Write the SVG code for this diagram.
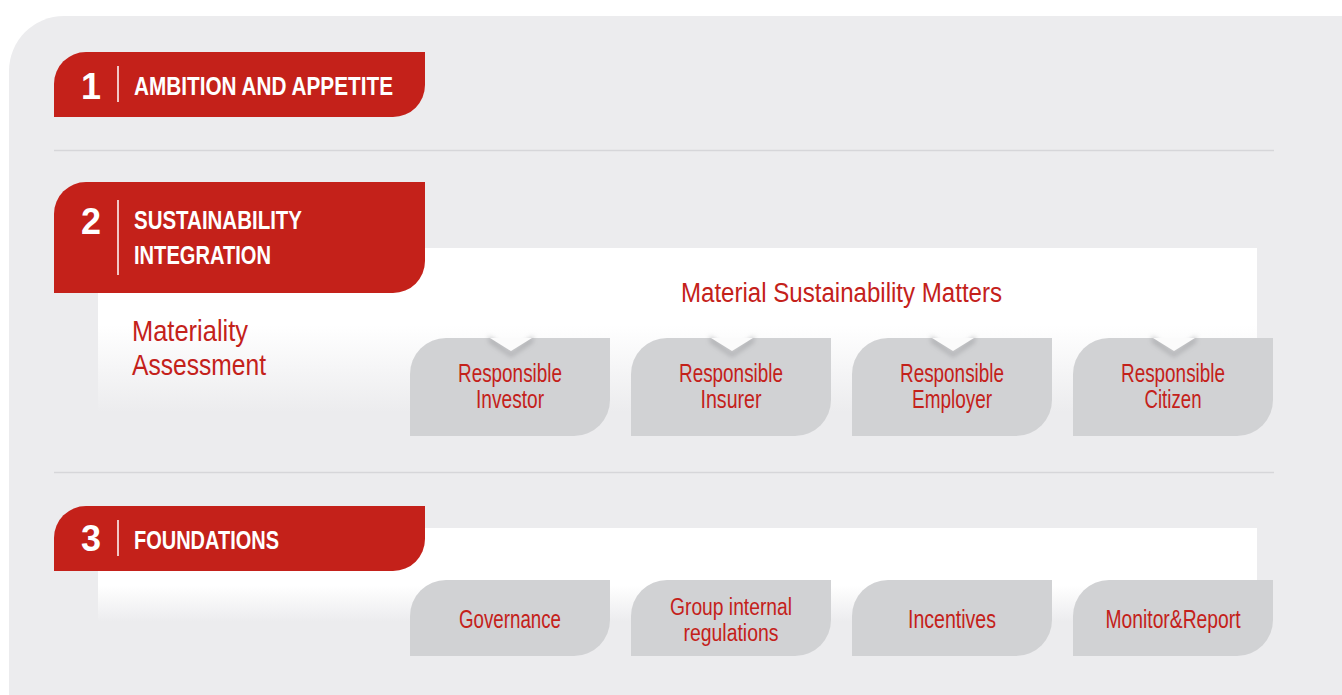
<svg xmlns="http://www.w3.org/2000/svg" width="1342" height="695" viewBox="0 0 1342 695">
<style>
.tab{fill:#C4211A}
.card{fill:#D1D2D4}
.num{font-family:"Liberation Sans",Arial,sans-serif;font-weight:bold;font-size:36px;fill:#fff;text-anchor:middle}
.ttl{font-family:"Liberation Sans",Arial,sans-serif;font-weight:bold;font-size:26px;fill:#fff}
.sep{stroke:#fff;stroke-width:1.5}
.red{font-family:"Liberation Sans",Arial,sans-serif;fill:#C4211A}
.ct{font-size:25px;text-anchor:middle}
.ct2{font-size:23px;text-anchor:middle}
.div{stroke:#D6D6D9;stroke-width:1.5}
.notch{fill:#FBFBFB}
</style>
<defs>
<linearGradient id="g2" gradientUnits="userSpaceOnUse" x1="0" y1="325" x2="0" y2="412">
<stop offset="0" stop-color="#FFFFFF"/><stop offset="1" stop-color="#ECECEE"/>
</linearGradient>
<linearGradient id="g3" gradientUnits="userSpaceOnUse" x1="0" y1="585" x2="0" y2="622">
<stop offset="0" stop-color="#FFFFFF"/><stop offset="1" stop-color="#ECECEE"/>
</linearGradient>
<filter id="blur" x="-50%" y="-50%" width="200%" height="200%"><feGaussianBlur stdDeviation="2.5"/></filter>
<path id="notchShadow" d="M-22,-2 L0,15 L22,-2 L22,4 L0,19 L-22,4 Z"/>
</defs>
<rect x="0" y="0" width="1342" height="695" fill="#FFFFFF"/>
<path d="M9,695 L9,71 A55,55 0 0 1 64,16 L1342,16 L1342,695 Z" fill="#ECECEE"/>
<line class="div" x1="54" y1="150.5" x2="1274" y2="150.5"/>
<line class="div" x1="54" y1="472.5" x2="1274" y2="472.5"/>
<rect x="98" y="248" width="1159" height="167" fill="url(#g2)"/>
<rect x="98" y="528" width="1159" height="97" fill="url(#g3)"/>

<g id="tab1">
<path class="tab" d="M54,117 L54,84 A32,32 0 0 1 86,52 L425,52 L425,85 A32,32 0 0 1 393,117 Z"/>
<text class="num" x="91" y="99">1</text>
<line class="sep" x1="118" y1="66" x2="118" y2="102"/>
<text class="ttl" x="134" y="95" textLength="259" lengthAdjust="spacingAndGlyphs">AMBITION AND APPETITE</text>
</g>

<g id="tab2">
<path class="tab" d="M54,293 L54,214 A32,32 0 0 1 86,182 L425,182 L425,261 A32,32 0 0 1 393,293 Z"/>
<text class="num" x="91" y="234">2</text>
<line class="sep" x1="118" y1="200" x2="118" y2="275"/>
<text class="ttl" x="134" y="229" textLength="168" lengthAdjust="spacingAndGlyphs">SUSTAINABILITY</text>
<text class="ttl" x="134" y="264" textLength="137" lengthAdjust="spacingAndGlyphs">INTEGRATION</text>
</g>

<g id="tab3">
<path class="tab" d="M54,571 L54,538 A32,32 0 0 1 86,506 L425,506 L425,539 A32,32 0 0 1 393,571 Z"/>
<text class="num" x="91" y="551">3</text>
<line class="sep" x1="118" y1="520" x2="118" y2="556"/>
<text class="ttl" x="134" y="549" textLength="145" lengthAdjust="spacingAndGlyphs">FOUNDATIONS</text>
</g>

<g id="materiality-assessment">
<text class="red" font-size="30" x="132" y="341" textLength="116" lengthAdjust="spacingAndGlyphs">Materiality</text>
<text class="red" font-size="30" x="132" y="375" textLength="134" lengthAdjust="spacingAndGlyphs">Assessment</text>
</g>

<g id="material-matters">
<text class="red" font-size="27" x="681" y="302" textLength="321" lengthAdjust="spacingAndGlyphs">Material Sustainability Matters</text>
</g>

<g id="responsible-investor">
<path class="card" d="M410,436 L410,374 A36,36 0 0 1 446,338 L610,338 L610,400 A36,36 0 0 1 574,436 Z"/>
<use href="#notchShadow" x="511" y="338" fill="#9C9DA0" opacity="0.7" filter="url(#blur)"/>
<path class="notch" d="M490,338 L511,351 L532,338 Z"/>
<text class="red ct" x="510" y="382" textLength="104" lengthAdjust="spacingAndGlyphs">Responsible</text>
<text class="red ct" x="510" y="408" textLength="68" lengthAdjust="spacingAndGlyphs">Investor</text>
</g>

<g id="responsible-insurer">
<path class="card" d="M631,436 L631,374 A36,36 0 0 1 667,338 L831,338 L831,400 A36,36 0 0 1 795,436 Z"/>
<use href="#notchShadow" x="732" y="338" fill="#9C9DA0" opacity="0.7" filter="url(#blur)"/>
<path class="notch" d="M711,338 L732,351 L753,338 Z"/>
<text class="red ct" x="731" y="382" textLength="104" lengthAdjust="spacingAndGlyphs">Responsible</text>
<text class="red ct" x="731" y="408" textLength="61" lengthAdjust="spacingAndGlyphs">Insurer</text>
</g>

<g id="responsible-employer">
<path class="card" d="M852,436 L852,374 A36,36 0 0 1 888,338 L1052,338 L1052,400 A36,36 0 0 1 1016,436 Z"/>
<use href="#notchShadow" x="953" y="338" fill="#9C9DA0" opacity="0.7" filter="url(#blur)"/>
<path class="notch" d="M932,338 L953,351 L974,338 Z"/>
<text class="red ct" x="952" y="382" textLength="104" lengthAdjust="spacingAndGlyphs">Responsible</text>
<text class="red ct" x="952" y="408" textLength="80" lengthAdjust="spacingAndGlyphs">Employer</text>
</g>

<g id="responsible-citizen">
<path class="card" d="M1073,436 L1073,374 A36,36 0 0 1 1109,338 L1273,338 L1273,400 A36,36 0 0 1 1237,436 Z"/>
<use href="#notchShadow" x="1174" y="338" fill="#9C9DA0" opacity="0.7" filter="url(#blur)"/>
<path class="notch" d="M1153,338 L1174,351 L1195,338 Z"/>
<text class="red ct" x="1173" y="382" textLength="104" lengthAdjust="spacingAndGlyphs">Responsible</text>
<text class="red ct" x="1173" y="408" textLength="57" lengthAdjust="spacingAndGlyphs">Citizen</text>
</g>

<g id="governance">
<path class="card" d="M410,656 L410,616 A36,36 0 0 1 446,580 L610,580 L610,620 A36,36 0 0 1 574,656 Z"/>
<text class="red ct" x="510" y="628" textLength="102" lengthAdjust="spacingAndGlyphs">Governance</text>
</g>

<g id="group-internal-regulations">
<path class="card" d="M631,656 L631,616 A36,36 0 0 1 667,580 L831,580 L831,620 A36,36 0 0 1 795,656 Z"/>
<text class="red ct2" x="731" y="615" textLength="122" lengthAdjust="spacingAndGlyphs">Group internal</text>
<text class="red ct2" x="731" y="641" textLength="95" lengthAdjust="spacingAndGlyphs">regulations</text>
</g>

<g id="incentives">
<path class="card" d="M852,656 L852,616 A36,36 0 0 1 888,580 L1052,580 L1052,620 A36,36 0 0 1 1016,656 Z"/>
<text class="red ct" x="952" y="628" textLength="88" lengthAdjust="spacingAndGlyphs">Incentives</text>
</g>

<g id="monitor-report">
<path class="card" d="M1073,656 L1073,616 A36,36 0 0 1 1109,580 L1273,580 L1273,620 A36,36 0 0 1 1237,656 Z"/>
<text class="red ct" x="1173" y="628" textLength="135" lengthAdjust="spacingAndGlyphs">Monitor&amp;Report</text>
</g>
</svg>
